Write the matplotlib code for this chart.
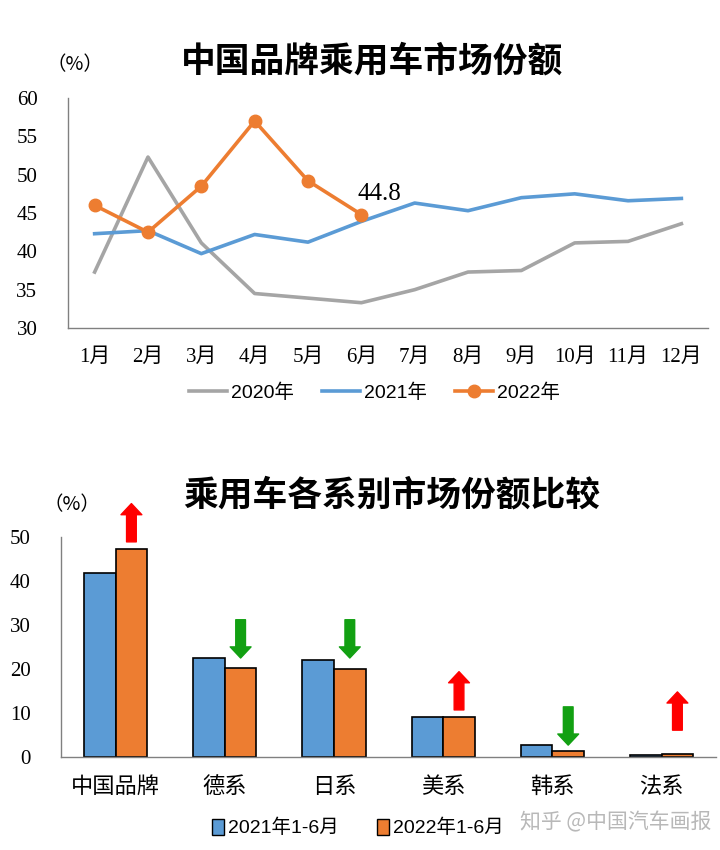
import numpy as np
import matplotlib
matplotlib.use("Agg")
import matplotlib.pyplot as plt
from matplotlib.lines import Line2D
from matplotlib.patches import Patch

# top chart: monthly share of Chinese brands (%)
months = ['1月', '2月', '3月', '4月', '5月', '6月', '7月', '8月', '9月', '10月', '11月', '12月']
share_2020 = [37.3, 52.3, 41.1, 34.5, 33.9, 33.3, 35.0, 37.3, 37.5, 41.1, 41.3, 43.6]
share_2021 = [42.3, 42.7, 39.7, 42.2, 41.2, 43.9, 46.3, 45.3, 47.0, 47.5, 46.6, 46.9]
share_2022 = [46.0, 42.5, 48.5, 57.0, 49.2, 44.8]
series_labels = ['2020年', '2021年', '2022年']

# bottom chart: share by origin, Jan-Jun
origins = ['中国品牌', '德系', '日系', '美系', '韩系', '法系']
h1_2021 = [41.8, 22.6, 22.0, 9.1, 2.7, 0.4]
h1_2022 = [47.2, 20.3, 20.0, 9.1, 1.4, 0.7]
bar_labels = ['2021年1-6月', '2022年1-6月']
# arrow annotations: direction (+1 up / -1 down), lower end of arrow
arrow_dir = [1, -1, -1, 1, -1, 1]
arrow_low = [48.9, 22.5, 22.5, 10.7, 2.7, 6.1]
arrow_len = 8.7

GRAY = '#A5A5A5'
BLUE = '#5B9BD5'
ORANGE = '#ED7D31'

serif = ['Liberation Serif', 'Noto Sans CJK SC']
sans = ['Liberation Sans', 'Noto Sans CJK SC']
cjk = ['Noto Sans CJK SC', 'DejaVu Sans']

fig = plt.figure(figsize=(7.2, 8.5), dpi=100)

# ---------------- top chart ----------------
ax1 = fig.add_axes([0.0944, 0.6141, 0.889, 0.2706])
x = np.arange(len(months))
ax1.plot(x, share_2020, color=GRAY, lw=2.6, label=series_labels[0])
ax1.plot(x, share_2021, color=BLUE, lw=2.6, label=series_labels[1])
ax1.plot(x[:len(share_2022)], share_2022, color=ORANGE, lw=2.6, marker='o',
         ms=9, label=series_labels[2])
ax1.text(x[len(share_2022) - 1] + 0.34, share_2022[-1] + 1.3, '%.1f' % share_2022[-1],
         ha='center', va='bottom', fontsize=18, family=serif)
ax1.set_xlim(-0.5, 11.5)
ax1.set_ylim(30, 60)
ax1.set_yticks(np.arange(30, 61, 5))
ax1.set_xticks(x)
ax1.set_xticklabels(months, family=serif, fontsize=15)
for lab in ax1.get_yticklabels():
    lab.set_family(serif)
    lab.set_fontsize(15)
ax1.tick_params(axis='y', length=0, pad=22)
ax1.tick_params(axis='x', length=0, pad=14)
for s in ['top', 'right']:
    ax1.spines[s].set_visible(False)
for s in ['left', 'bottom']:
    ax1.spines[s].set_color('#808080')
    ax1.spines[s].set_linewidth(1.0)

h = [Line2D([], [], color=GRAY, lw=2.6),
     Line2D([], [], color=BLUE, lw=2.6),
     Line2D([], [], color=ORANGE, lw=2.6, marker='o', ms=9)]
fig.legend(h, series_labels, loc='center', bbox_to_anchor=(0.52, 0.5376), ncol=3,
           frameon=False, prop={'family': sans, 'size': 14}, handlelength=2.0,
           columnspacing=1.4, handletextpad=0.2)

fig.text(0.517, 0.928, '中国品牌乘用车市场份额', ha='center', va='center',
         fontsize=25, fontweight='bold', family=cjk)
fig.text(0.104, 0.9235, '（%）', ha='center', va='center', fontsize=14, family=cjk)

# ---------------- bottom chart ----------------
ax2 = fig.add_axes([0.0847, 0.1094, 0.910, 0.2588])
xb = np.arange(len(origins))
w = 0.29
ax2.bar(xb - w / 2, h1_2021, w, color=BLUE, edgecolor='black', lw=1.2)
ax2.bar(xb + w / 2, h1_2022, w, color=ORANGE, edgecolor='black', lw=1.2)
for i in range(len(origins)):
    if arrow_dir[i] > 0:
        tail, head, col = arrow_low[i], arrow_low[i] + arrow_len, '#FF0000'
    else:
        tail, head, col = arrow_low[i] + arrow_len, arrow_low[i], '#12A012'
    ax2.annotate('', xy=(xb[i] + w / 2, head), xytext=(xb[i] + w / 2, tail),
                 arrowprops=dict(width=7, headwidth=15, headlength=8,
                                 color=col, shrink=0), annotation_clip=False)
ax2.set_xlim(-0.5, 5.5)
ax2.set_ylim(0, 50)
ax2.set_yticks(np.arange(0, 51, 10))
ax2.set_xticks(xb)
ax2.set_xticklabels(origins, family=cjk, fontsize=16)
for lab in ax2.get_yticklabels():
    lab.set_family(serif)
    lab.set_fontsize(15)
ax2.tick_params(axis='y', length=0, pad=22)
ax2.tick_params(axis='x', length=0, pad=13)
for s in ['top', 'right']:
    ax2.spines[s].set_visible(False)
for s in ['left', 'bottom']:
    ax2.spines[s].set_color('#808080')
    ax2.spines[s].set_linewidth(1.0)

hb = [Patch(facecolor=BLUE, edgecolor='black'), Patch(facecolor=ORANGE, edgecolor='black')]
fig.legend(hb, bar_labels, loc='center', bbox_to_anchor=(0.497, 0.026), ncol=2,
           frameon=False, prop={'family': sans, 'size': 14}, handlelength=0.6,
           handleheight=0.9, columnspacing=2.0, handletextpad=0.2)

fig.text(0.544, 0.418, '乘用车各系别市场份额比较', ha='center', va='center',
         fontsize=25, fontweight='bold', family=cjk)
fig.text(0.1, 0.406, '（%）', ha='center', va='center', fontsize=14, family=cjk)

fig.text(0.855, 0.033, '知乎 @中国汽车画报', ha='center', va='center',
         fontsize=15, color='#B8B8B8', family=cjk)

fig.savefig('out.png', dpi=100)
